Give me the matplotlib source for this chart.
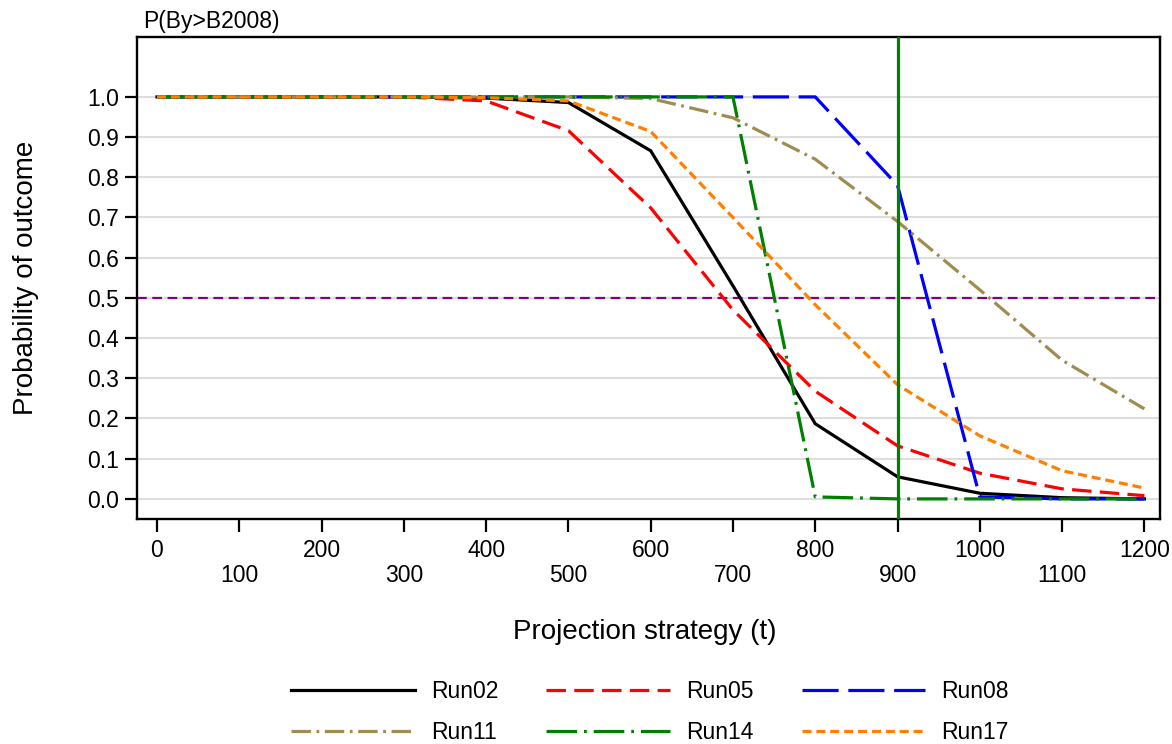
import matplotlib
matplotlib.use("Agg")
import matplotlib.pyplot as plt

plt.rcParams['font.family'] = ['Liberation Sans', 'DejaVu Sans']
plt.rcParams['lines.scale_dashes'] = False

# projection strategy (t)
catch = [0, 100, 200, 300, 400, 500, 600, 700, 800, 900, 1000, 1100, 1200]

run02 = [1.0, 1.0, 1.0, 1.0, 0.997, 0.986, 0.866, 0.53, 0.187, 0.055, 0.014, 0.003, 0.0]
run05 = [1.0, 1.0, 1.0, 1.0, 0.99, 0.916, 0.724, 0.47, 0.268, 0.132, 0.064, 0.025, 0.008]
run08 = [1.0, 1.0, 1.0, 1.0, 1.0, 1.0, 1.0, 1.0, 1.0, 0.78, 0.005, 0.0, 0.0]
run11 = [1.0, 1.0, 1.0, 1.0, 1.0, 1.0, 0.996, 0.948, 0.845, 0.69, 0.52, 0.345, 0.224]
run14 = [1.0, 1.0, 1.0, 1.0, 1.0, 1.0, 1.0, 1.0, 0.005, 0.0, 0.0, 0.0, 0.0]
run17 = [1.0, 1.0, 1.0, 1.0, 0.998, 0.99, 0.914, 0.70, 0.483, 0.284, 0.157, 0.07, 0.027]

run_names = ['Run02', 'Run05', 'Run08', 'Run11', 'Run14', 'Run17']
run_values = [run02, run05, run08, run11, run14, run17]
run_colors = ['black', '#FF0000', '#0000FF', '#A08C50', '#008000', '#FF8000']
run_dashes = [None, (14, 6), (26, 7), (14, 4, 2, 4), (22, 5, 2, 5), (6.5, 3.5)]

ref_prob = 0.5
ref_catch = 900

fig = plt.figure(figsize=(11.72, 7.44), dpi=100)
ax = fig.add_axes([137 / 1172, 1 - 519 / 744, (1160 - 137) / 1172, (519 - 37) / 744])

handles = {}
for name, vals, col, dsh in zip(run_names, run_values, run_colors, run_dashes):
    ln, = ax.plot(catch, vals, color=col, lw=2.3, label=name, zorder=3)
    if dsh is not None:
        ln.set_dashes(dsh)
    handles[name] = ln

ax.axhline(ref_prob, color='#800080', lw=1.6, dashes=(7, 4), zorder=2)
ax.axvline(ref_catch, color='#008000', lw=2.3, zorder=4)

ax.set_xlim(-24.3, 1219)
ax.set_ylim(-0.05, 1.149)

yt = [i / 10 for i in range(11)]
ax.set_yticks(yt)
ax.set_yticklabels([f"{v:.1f}" for v in yt])
ax.yaxis.grid(True, color='#DDDDDD', lw=1.5, zorder=0)
ax.set_axisbelow(True)

ax.set_xticks(catch[::2])
ax.set_xticklabels([str(v) for v in catch[::2]])
ax.set_xticks(catch[1::2], minor=True)
ax.set_xticklabels([str(v) for v in catch[1::2]], minor=True)

ax.tick_params(axis='both', which='both', direction='out', width=1.6, labelsize=16.5, color='black')
ax.tick_params(axis='x', which='major', length=9.5, pad=5)
ax.tick_params(axis='x', which='minor', length=9.5, pad=23)
ax.tick_params(axis='y', length=9, pad=4)

for s in ax.spines.values():
    s.set_linewidth(1.7)

ax.text(0.006, 1.008, 'P(By>B2008)', transform=ax.transAxes, fontsize=16.5, ha='left', va='bottom')
fig.text(645 / 1172, 1 - 632 / 744, 'Projection strategy (t)', fontsize=20, ha='center', va='center')
fig.text(26 / 1172, 1 - 278 / 744, 'Probability of outcome', fontsize=20, ha='center', va='center', rotation=90)

order = ['Run02', 'Run11', 'Run05', 'Run14', 'Run08', 'Run17']
fig.legend([handles[n] for n in order], order, ncol=3, loc='center',
           bbox_to_anchor=(650 / 1172, 1 - 712 / 744), frameon=False, fontsize=16.5,
           handlelength=5.4, handletextpad=0.7, columnspacing=2.1, labelspacing=0.8)

fig.savefig('out.png', dpi=100)
